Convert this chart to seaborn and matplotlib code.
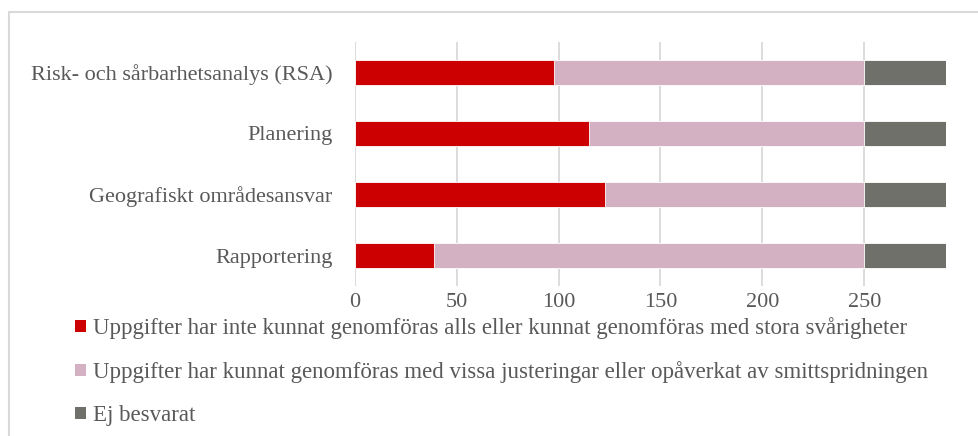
import pandas as pd
import numpy as np
import seaborn as sns
import matplotlib.pyplot as plt
from matplotlib.patches import Patch, Rectangle

# categories, top to bottom
categories = ["Risk- och sårbarhetsanalys (RSA)", "Planering",
              "Geografiskt områdesansvar", "Rapportering"]
# stacked series
stora_svarigheter = [98, 115, 123, 39]
vissa_justeringar = [152, 135, 127, 211]
ej_besvarat = [40, 40, 40, 40]

series_names = [
    "Uppgifter har inte kunnat genomföras alls eller kunnat genomföras med stora svårigheter",
    "Uppgifter har kunnat genomföras med vissa justeringar eller opåverkat av smittspridningen",
    "Ej besvarat",
]
colors = ["#CC0000", "#D3B0C2", "#70706A"]
x_ticks = [0, 50, 100, 150, 200, 250]

df = pd.DataFrame({"kategori": categories,
                   "s1": stora_svarigheter,
                   "s2": vissa_justeringar,
                   "s3": ej_besvarat})
# cumulative ends for stacking
df["c1"] = df["s1"]
df["c2"] = df["s1"] + df["s2"]
df["c3"] = df["s1"] + df["s2"] + df["s3"]

sns.set_style("white")
plt.rcParams['font.family'] = ['Liberation Serif', 'DejaVu Serif']
text_col = "#595959"

fig = plt.figure(figsize=(9.79, 4.36), dpi=100)
ax = fig.add_axes([0.3622, 0.344, 0.9663 - 0.3622, 0.9037 - 0.344])

# draw longest first so shorter ones sit on top
for col, c in zip(["c3", "c2", "c1"], colors[::-1]):
    sns.barplot(data=df, x=col, y="kategori", color=c, width=0.40,
                saturation=1, edgecolor="white", linewidth=0.6, ax=ax, zorder=3)

ax.set_xlim(0, 290)
ax.set_xticks(x_ticks)
ax.xaxis.grid(True, color="#D9D9D9", linewidth=1.3, zorder=0)
ax.set_axisbelow(True)
for s in ax.spines.values():
    s.set_visible(False)
ax.set_xlabel("")
ax.set_ylabel("")
ax.tick_params(axis="both", length=0, labelsize=16, labelcolor=text_col)
ax.tick_params(axis="x", pad=5)
ax.tick_params(axis="y", pad=16)

handles = [Patch(facecolor=c, edgecolor="none") for c in colors]
fig.legend(handles, series_names, loc="upper left", bbox_to_anchor=(0.077, 0.272),
           frameon=False, fontsize=16.5, labelcolor=text_col,
           handlelength=0.45, handleheight=0.45, handletextpad=0.3,
           labelspacing=0.95, borderaxespad=0, borderpad=0)

# outer chart frame
fig.patches.append(Rectangle((9 / 979, -0.1), 1.2, 1 - 12 / 436 + 0.1,
                             transform=fig.transFigure, fill=False,
                             edgecolor="#D9D9D9", linewidth=1.5))

plt.savefig("out.png", dpi=100)
